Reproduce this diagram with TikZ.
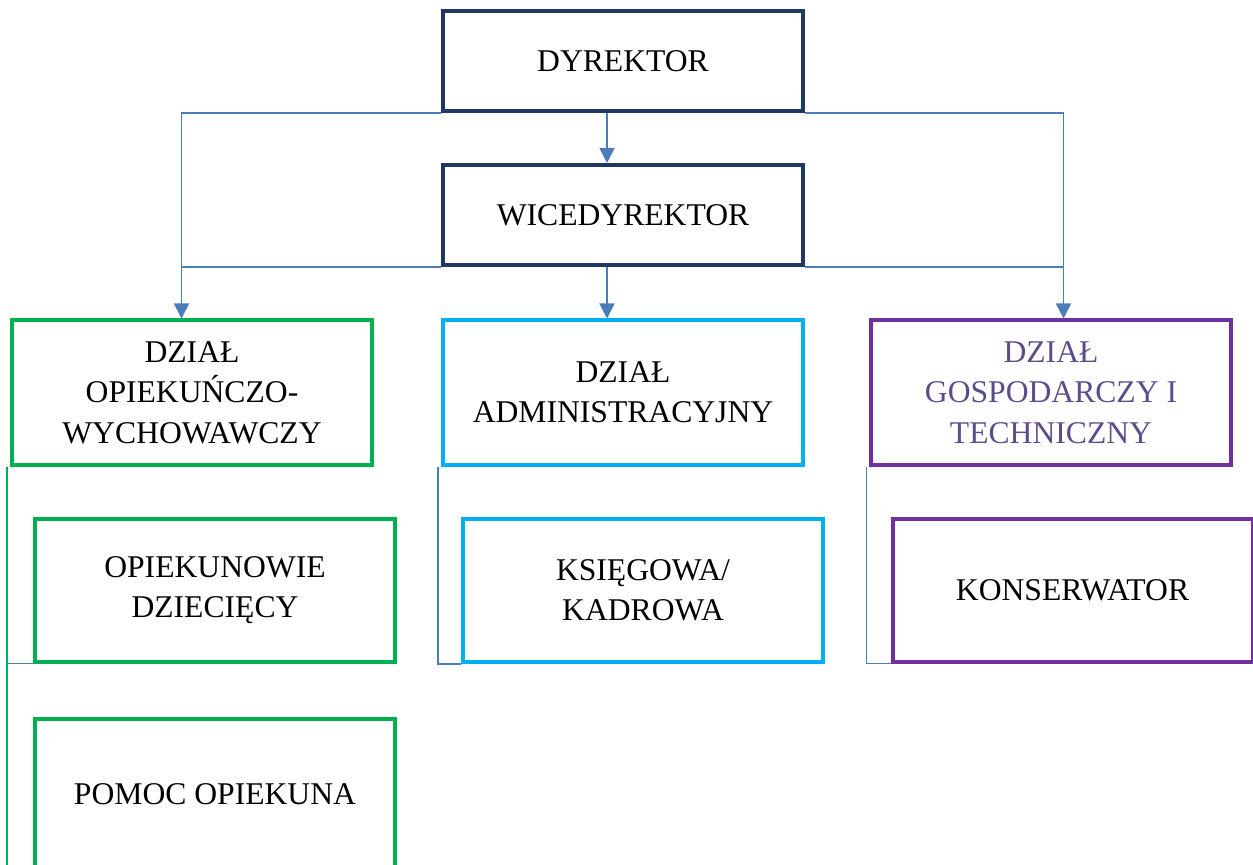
\documentclass[tikz,border=0pt]{standalone}
\usepackage{fontspec}
\setmainfont{Liberation Serif}
\usepackage{tikz}
\usetikzlibrary{positioning}
\usetikzlibrary{arrows.meta}

\definecolor{boxnavy}{HTML}{1F3864}
\definecolor{boxgreen}{HTML}{00B050}
\definecolor{boxcyan}{HTML}{00B0F0}
\definecolor{boxpurple}{HTML}{7030A0}
\definecolor{linkblue}{HTML}{4A7EBB}
\definecolor{txtpurple}{HTML}{5F4B8B}

\begin{document}
\begin{tikzpicture}[on grid,>={Triangle[width=3mm,length=3mm]},
		unit/.style={rectangle,draw,line width=0.8mm,minimum width=7.2cm,align=center,
			font=\fontsize{18}{23}\selectfont},
		head/.style={unit,draw=boxnavy,minimum height=2cm},
		dept/.style={unit,minimum height=2.88cm},
		sub/.style={unit,minimum height=2.86cm},
		link/.style={draw=linkblue,line width=0.35mm}]
		\useasboundingbox (0,0) rectangle (25.06,-17.3);
		\clip (0,0) rectangle (25.06,-17.3);
		\node[head]  (dyr)   at (12.46,-1.22)           {DYREKTOR};
		\node[head]  (wice)  [below=3.08cm of dyr]      {WICEDYREKTOR};
		\node[dept,draw=boxcyan]   (admin) [below=3.55cm of wice]  {DZIAŁ\\ADMINISTRACYJNY};
		\node[dept,draw=boxgreen]  (opiek) [left=8.62cm of admin]  {DZIAŁ\\OPIEKUŃCZO-\\WYCHOWAWCZY};
		\node[dept,draw=boxpurple,text=txtpurple] (gosp) [right=8.56cm of admin] {DZIAŁ\\GOSPODARCZY I\\TECHNICZNY};
		
		\node[sub,draw=boxgreen]   (opiekun) [below right=3.95cm and 0.46cm of opiek] {OPIEKUNOWIE\\DZIECIĘCY};
		\node[sub,draw=boxgreen,minimum height=3cm] (pomoc) [below=4.08cm of opiekun] {POMOC OPIEKUNA};
		\node[sub,draw=boxcyan]    (ksieg)   [below right=3.96cm and 0.4cm of admin] {KSIĘGOWA/\\KADROWA};
		\node[sub,draw=boxpurple]  (kons)    [below right=3.95cm and 0.43cm of gosp] {KONSERWATOR};
		
		\coordinate (lft) at ([xshift=-0.21cm]opiek.north);
		\coordinate (rgt) at ([xshift=0.25cm]gosp.north);
		\coordinate (mid) at ([xshift=-0.32cm]dyr.south);
		
		% top level
		\draw[link,->] (dyr.south west) -| (lft);
		\draw[link,->] (dyr.south east) -| (rgt);
		\draw[link] (wice.south west) -- (wice.south west -| lft);
		\draw[link] (wice.south east) -- (wice.south east -| rgt);
		\draw[link,->] (mid) -- (mid |- wice.north);
		\draw[link,->] (mid |- wice.south) -- (mid |- admin.north);
		
		% departments
		\draw[link] ([xshift=-1.5pt]opiek.south west) |- (opiekun.south west);
		\draw[boxgreen,line width=0.4mm] ([xshift=-1.5pt]opiek.south west) -- ([xshift=-1.5pt,yshift=-1cm]opiek.south west |- pomoc.south);
		\draw[link] ([xshift=-1.5pt]admin.south west) |- (ksieg.south west);
		\draw[link] ([xshift=-1.5pt]gosp.south west) |- (kons.south west);
\end{tikzpicture}
\end{document}
